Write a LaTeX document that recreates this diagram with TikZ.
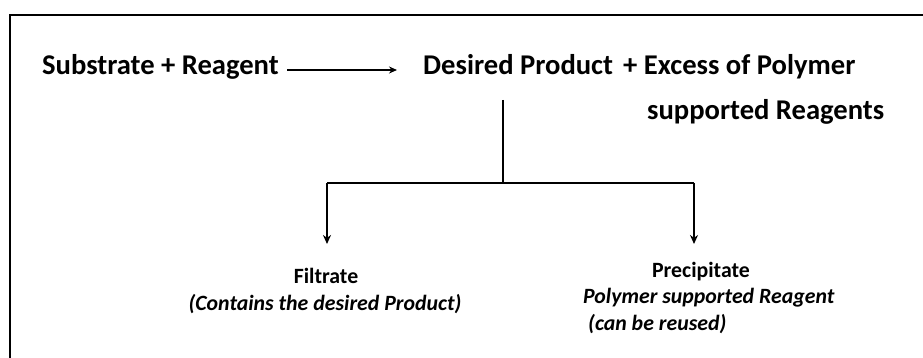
\documentclass[tikz,border=0pt]{standalone}
\usepackage{fontspec}
\setmainfont{Carlito}
\usetikzlibrary{arrows.meta}
\begin{document}
\begin{tikzpicture}[x=1pt,y=-1pt,
  big/.style={font=\fontsize{28.6}{34}\selectfont\bfseries, inner sep=0pt, anchor=base west},
  small/.style={font=\fontsize{21.8}{26}\selectfont\bfseries, inner sep=0pt, anchor=base},
  smallit/.style={font=\fontsize{21.8}{26}\selectfont\bfseries\itshape, inner sep=0pt, anchor=base},
  conn/.style={line width=2.4pt},
  arr/.style={line width=2.4pt, -{Stealth[length=9pt,width=8pt]}},
  frame/.style={line width=2.6pt}]
\useasboundingbox (0,0) rectangle (923,358);
% frame
\coordinate (fbl) at (10,358);
\coordinate (ftl) at (10,15);
\coordinate (ftr) at (923,15);
\draw[frame] (fbl) -- (ftl) -- (ftr);
% top row
\node[big] (s1) at (42,75) {Substrate + Reagent};
\node[big] (dp) at (423,75) {Desired Product};
\node[big] (ex) at (623,75) {+ Excess of Polymer};
\node[big] (sr) at (647,120) {supported Reagents};
\coordinate (a1) at (287,70);
\coordinate (a2) at (397,70);
\draw[line width=1.8pt, -{Stealth[length=8pt,width=7pt]}] (a1) -- (a2);
% tree
\coordinate (top) at (503,100);
\coordinate (j) at (503,183);
\coordinate (jl) at (327,183);
\coordinate (jr) at (694,183);
\coordinate (el) at (327,244);
\coordinate (er) at (694,244);
\draw[conn] (top) -- (j);
\draw[conn] (jl) -- (jr);
\draw[arr] (jl) -- (el);
\draw[arr] (jr) -- (er);
% bottom left
\node[small] (fil) at (326,283) {Filtrate};
\node[smallit] (con) at (325,310) {(Contains the desired Product)};
% bottom right
\node[small] (pre) at (701,277) {Precipitate};
\node[smallit,anchor=base west] (psr) at (583,303) {Polymer supported Reagent};
\node[smallit,anchor=base west] (reu) at (588,330) {(can be reused)};
\end{tikzpicture}
\end{document}
